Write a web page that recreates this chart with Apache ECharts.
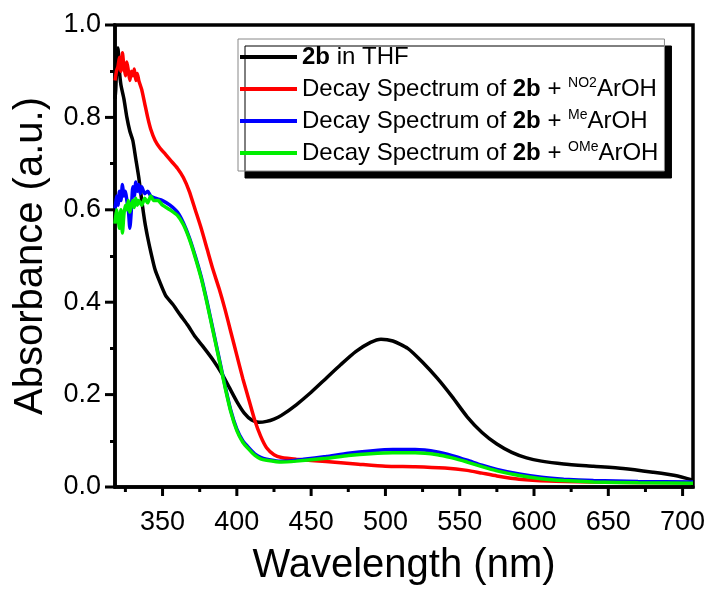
<!DOCTYPE html>
<html>
<head>
<meta charset="utf-8">
<script src="https://cdn.jsdelivr.net/npm/echarts@6/dist/echarts.min.js"></script>
<style>html,body{margin:0;padding:0;background:#fff}#c{width:709px;height:589px}</style>
</head>
<body>
<div id="c"></div>
<script>
// Axis ranges and tick labels
var xMin = 318, xMax = 707;
var xMajorTicks = [350, 400, 450, 500, 550, 600, 650, 700];
var xMinorTicks = [325, 375, 425, 475, 525, 575, 625, 675];
var yMajorTicks = [0, 0.2, 0.4, 0.6, 0.8, 1.0];
var seriesNames = ['2b in THF', 'Decay Spectrum of 2b + NO2ArOH', 'Decay Spectrum of 2b + MeArOH', 'Decay Spectrum of 2b + OMeArOH'];
var legendLabels = ['{b|2b} in THF', 'Decay Spectrum of {b|2b} + {sup|NO2}ArOH', 'Decay Spectrum of {b|2b} + {sup|Me}ArOH', 'Decay Spectrum of {b|2b} + {sup|OMe}ArOH'];

// 2b in THF (black)
var blackX = [318, 318.5, 319, 320, 321, 322, 324, 326, 328, 330, 332, 334, 336, 338, 340, 342, 345, 348, 352, 357, 362, 367, 372, 377, 384, 390, 395, 400, 405, 410, 415, 420, 425, 430, 440, 450, 460, 470, 480, 490, 497, 505, 515, 525, 535, 545, 555, 565, 575, 585, 595, 605, 620, 640, 660, 680, 695, 707];
var blackY = [0.84, 0.86, 0.9, 0.95, 0.9, 0.87, 0.84, 0.8, 0.77, 0.75, 0.71, 0.67, 0.62, 0.575, 0.54, 0.51, 0.47, 0.445, 0.415, 0.395, 0.372, 0.35, 0.325, 0.305, 0.275, 0.245, 0.215, 0.185, 0.16, 0.145, 0.14, 0.142, 0.147, 0.155, 0.178, 0.205, 0.235, 0.265, 0.293, 0.313, 0.32, 0.316, 0.3, 0.27, 0.235, 0.195, 0.152, 0.118, 0.093, 0.075, 0.063, 0.056, 0.05, 0.045, 0.04, 0.032, 0.025, 0.015];

// NO2 (red)
var redX = [318, 319, 320, 321, 322, 323, 324, 325, 326, 327, 328, 329, 330, 331, 332, 333, 334, 335, 336, 338, 340, 342, 345, 348, 352, 356, 360, 364, 368, 372, 376, 380, 384, 388, 392, 396, 400, 404, 408, 412, 416, 420, 425, 430, 440, 460, 480, 500, 520, 540, 555, 565, 575, 590, 610, 640, 670, 707];
var redY = [0.88, 0.9, 0.91, 0.93, 0.9, 0.94, 0.91, 0.89, 0.92, 0.9, 0.88, 0.9, 0.89, 0.905, 0.88, 0.895, 0.88, 0.87, 0.86, 0.83, 0.8, 0.775, 0.75, 0.735, 0.72, 0.705, 0.69, 0.67, 0.64, 0.6, 0.56, 0.515, 0.47, 0.43, 0.385, 0.335, 0.285, 0.235, 0.19, 0.145, 0.11, 0.085, 0.07, 0.064, 0.06, 0.055, 0.05, 0.045, 0.044, 0.041, 0.036, 0.03, 0.024, 0.017, 0.013, 0.011, 0.01, 0.01];

// Me (blue)
var blueX = [318, 319, 320, 321, 322, 323, 324, 325, 326, 327, 328, 329, 330, 331, 332, 333, 334, 335, 336, 338, 340, 342, 345, 350, 355, 360, 364, 368, 372, 376, 380, 384, 388, 392, 396, 400, 404, 408, 412, 416, 420, 428, 435, 445, 460, 475, 490, 505, 520, 535, 545, 555, 565, 575, 590, 605, 620, 640, 670, 707];
var blueY = [0.6, 0.63, 0.61, 0.64, 0.62, 0.655, 0.63, 0.64, 0.62, 0.6, 0.56, 0.6, 0.65, 0.63, 0.66, 0.64, 0.655, 0.635, 0.65, 0.635, 0.64, 0.63, 0.625, 0.62, 0.61, 0.595, 0.572, 0.54, 0.5, 0.455, 0.4, 0.34, 0.28, 0.22, 0.165, 0.125, 0.1, 0.085, 0.072, 0.064, 0.06, 0.056, 0.056, 0.06, 0.066, 0.073, 0.078, 0.081, 0.081, 0.076, 0.068, 0.058, 0.047, 0.038, 0.028, 0.021, 0.017, 0.014, 0.012, 0.011];

// OMe (green)
var greenX = [318, 319, 320, 321, 322, 323, 324, 325, 326, 327, 328, 329, 330, 331, 332, 333, 334, 336, 338, 340, 342, 344, 347, 350, 355, 360, 364, 368, 372, 376, 380, 384, 388, 392, 396, 400, 404, 408, 412, 416, 420, 430, 440, 460, 475, 490, 505, 520, 535, 545, 555, 565, 575, 590, 605, 620, 640, 670, 707];
var greenY = [0.57, 0.6, 0.585, 0.56, 0.6, 0.55, 0.59, 0.61, 0.6, 0.62, 0.595, 0.61, 0.62, 0.605, 0.625, 0.61, 0.62, 0.61, 0.625, 0.615, 0.63, 0.62, 0.62, 0.61, 0.6, 0.588, 0.568, 0.537, 0.497, 0.452, 0.397, 0.337, 0.277, 0.217, 0.162, 0.122, 0.097, 0.082, 0.069, 0.061, 0.058, 0.054, 0.056, 0.062, 0.068, 0.072, 0.074, 0.074, 0.07, 0.063, 0.054, 0.044, 0.035, 0.025, 0.018, 0.014, 0.011, 0.009, 0.008];

function pairs(xs, ys) { return xs.map(function (x, i) { return [x, ys[i]]; }); }

var FONT = 'Liberation Sans, Arial, sans-serif';
var colors = ['#000000', '#ff0000', '#0000ff', '#00ee00'];
var allX = [blackX, redX, blueX, greenX];
var allY = [blackY, redY, blueY, greenY];

var chart = echarts.init(document.getElementById('c'), null, { renderer: 'canvas' });
chart.setOption({
  animation: false,
  backgroundColor: '#fff',
  textStyle: { fontFamily: FONT },
  grid: { left: 115, right: 16, top: 25, bottom: 102, outerBoundsMode: 'none', show: true, borderColor: '#000', borderWidth: 3.5, backgroundColor: 'transparent' },
  legend: {
    left: 238, top: 39, orient: 'vertical',
    data: seriesNames,
    icon: 'rect', itemWidth: 57, itemHeight: 4, itemGap: 6,
    padding: [5, 6, 5, 2],
    backgroundColor: '#fff', borderColor: '#888', borderWidth: 1,
    shadowColor: '#000', shadowBlur: 0, shadowOffsetX: 7, shadowOffsetY: 7,
    formatter: function (name) { return legendLabels[seriesNames.indexOf(name)]; },
    textStyle: {
      fontFamily: FONT, fontSize: 24, color: '#000', lineHeight: 26,
      rich: {
        b: { fontFamily: FONT, fontSize: 24, fontWeight: 'bold', color: '#000', lineHeight: 26 },
        sup: { fontFamily: FONT, fontSize: 14, color: '#000', verticalAlign: 'top', lineHeight: 14 }
      }
    }
  },
  xAxis: {
    type: 'value', min: xMin, max: xMax,
    name: 'Wavelength (nm)', nameLocation: 'middle', nameGap: 59,
    nameTextStyle: { fontFamily: FONT, fontSize: 40, color: '#000' },
    axisLine: { show: true, onZero: false, lineStyle: { color: '#000', width: 3.5 } },
    axisTick: { show: false },
    axisLabel: { show: true, margin: 22, customValues: xMajorTicks, fontFamily: FONT, fontSize: 27, color: '#000' },
    splitLine: { show: false }
  },
  yAxis: {
    type: 'value', min: 0, max: 1, interval: 0.2,
    name: 'Absorbance (a.u.)', nameLocation: 'middle', nameGap: 64,
    nameTextStyle: { fontFamily: FONT, fontSize: 40, color: '#000' },
    axisLine: { show: true, onZero: false, lineStyle: { color: '#000', width: 3.5 } },
    axisTick: { show: false },
    minorTick: { show: true, splitNumber: 2, length: 5, lineStyle: { color: '#000', width: 3 } },
    axisLabel: { margin: 14, fontFamily: FONT, fontSize: 27, color: '#000', formatter: function (v) { return v.toFixed(1); } },
    splitLine: { show: false }
  },
  series: seriesNames.map(function (n, i) {
    return {
      name: n, type: 'line', data: pairs(allX[i], allY[i]),
      showSymbol: false, symbol: 'none', smooth: 0.2,
      color: colors[i],
      lineStyle: { color: colors[i], width: 3.5 },
      z: 2 + i
    };
  })
});

// Tick marks placed through the chart's own scales (convertToPixel)
var tickEls = [];
function addX(vals, len) {
  vals.forEach(function (v) {
    var p = chart.convertToPixel({ gridIndex: 0 }, [v, 0]);
    tickEls.push({ type: 'line', z: 100, silent: true, shape: { x1: p[0], y1: p[1], x2: p[0], y2: p[1] + len }, style: { stroke: '#000', lineWidth: 3 } });
  });
}
function addY(vals, len) {
  vals.forEach(function (v) {
    var p = chart.convertToPixel({ gridIndex: 0 }, [xMin, v]);
    tickEls.push({ type: 'line', z: 100, silent: true, shape: { x1: p[0], y1: p[1], x2: p[0] - len, y2: p[1] }, style: { stroke: '#000', lineWidth: 3 } });
  });
}
addX(xMajorTicks, 9);
addX(xMinorTicks, 5);
addY(yMajorTicks, 10);
chart.setOption({ graphic: { elements: tickEls } });
</script>
</body>
</html>
